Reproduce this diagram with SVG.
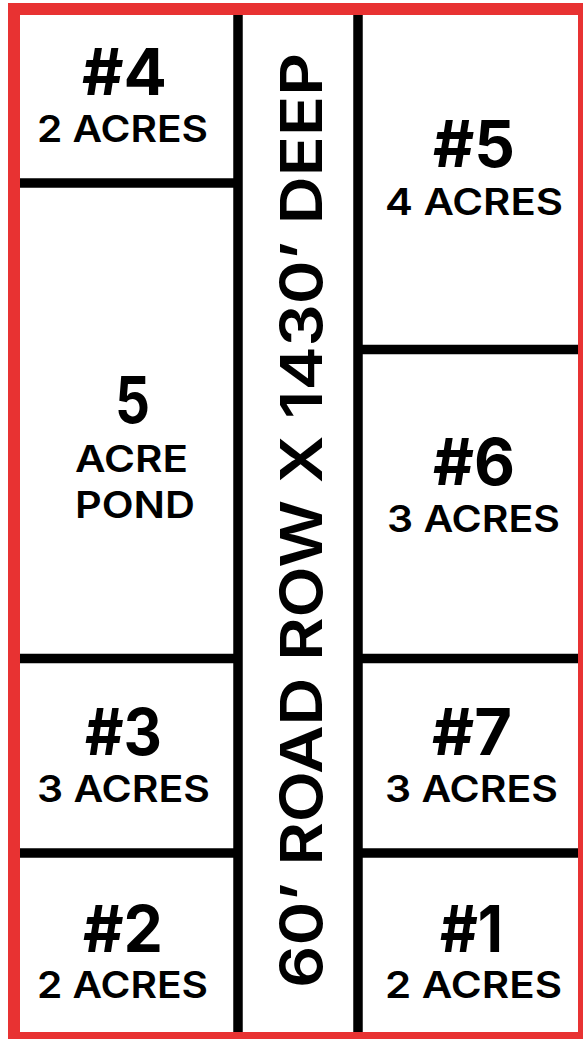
<svg xmlns="http://www.w3.org/2000/svg" width="583" height="1039" viewBox="0 0 583 1039">
<style>
.num{font-family:Inter,"DejaVu Sans",sans-serif;font-weight:700;font-size:64px;fill:#000;text-anchor:middle}
.ac{font-family:Inter,"DejaVu Sans",sans-serif;font-weight:600;font-size:37px;fill:#000;text-anchor:middle}
.road{font-family:Inter,"DejaVu Sans",sans-serif;font-weight:600;font-size:58px;fill:#000;text-anchor:middle}
.ln{stroke:#000;stroke-width:9.5;fill:none}
</style>
<rect x="0" y="0" width="583" height="1039" fill="#fff"/>
<g id="connectors">
<line class="ln" x1="238" y1="15" x2="238" y2="1032"/>
<line class="ln" x1="358" y1="15" x2="358" y2="1032"/>
<line class="ln" x1="20" y1="183" x2="238" y2="183"/>
<line class="ln" x1="20" y1="658.5" x2="238" y2="658.5"/>
<line class="ln" x1="20" y1="853" x2="238" y2="853"/>
<line class="ln" x1="358" y1="349.5" x2="578" y2="349.5"/>
<line class="ln" x1="358" y1="658.5" x2="578" y2="658.5"/>
<line class="ln" x1="358" y1="853" x2="578" y2="853"/>
</g>
<rect id="border" x="14" y="9" width="570" height="1029" fill="none" stroke="#e83232" stroke-width="12"/>
<g id="lot4">
<text class="num" x="124.5" y="95" textLength="85" lengthAdjust="spacingAndGlyphs">#4</text>
<text class="ac" x="122.5" y="142" textLength="171" lengthAdjust="spacingAndGlyphs">2 ACRES</text>
</g>
<g id="pond">
<text class="num" x="132.5" y="423" textLength="35" lengthAdjust="spacingAndGlyphs">5</text>
<text class="ac" x="131.5" y="472" textLength="113" lengthAdjust="spacingAndGlyphs">ACRE</text>
<text class="ac" x="135" y="518" textLength="120" lengthAdjust="spacingAndGlyphs">POND</text>
</g>
<g id="lot3">
<text class="num" x="123.5" y="755" textLength="77" lengthAdjust="spacingAndGlyphs">#3</text>
<text class="ac" x="123.5" y="802" textLength="173" lengthAdjust="spacingAndGlyphs">3 ACRES</text>
</g>
<g id="lot2">
<text class="num" x="123" y="952" textLength="80" lengthAdjust="spacingAndGlyphs">#2</text>
<text class="ac" x="122.5" y="998" textLength="171" lengthAdjust="spacingAndGlyphs">2 ACRES</text>
</g>
<g id="lot5">
<text class="num" x="474" y="167" textLength="82" lengthAdjust="spacingAndGlyphs">#5</text>
<text class="ac" x="474" y="215" textLength="178" lengthAdjust="spacingAndGlyphs">4 ACRES</text>
</g>
<g id="lot6">
<text class="num" x="474" y="485" textLength="82" lengthAdjust="spacingAndGlyphs">#6</text>
<text class="ac" x="473.5" y="532" textLength="173" lengthAdjust="spacingAndGlyphs">3 ACRES</text>
</g>
<g id="lot7">
<text class="num" x="472" y="755" textLength="80" lengthAdjust="spacingAndGlyphs">#7</text>
<text class="ac" x="471.5" y="802" textLength="173" lengthAdjust="spacingAndGlyphs">3 ACRES</text>
</g>
<g id="lot1">
<text class="num" x="471.5" y="952" textLength="63" lengthAdjust="spacingAndGlyphs">#1</text>
<text class="ac" x="473.5" y="998" textLength="177" lengthAdjust="spacingAndGlyphs">2 ACRES</text>
</g>
<g id="road">
<text class="road" transform="translate(322,520.5) rotate(-90)" x="0" y="0" textLength="935" lengthAdjust="spacingAndGlyphs">60’ ROAD ROW X 1430’ DEEP</text>
</g>
</svg>
